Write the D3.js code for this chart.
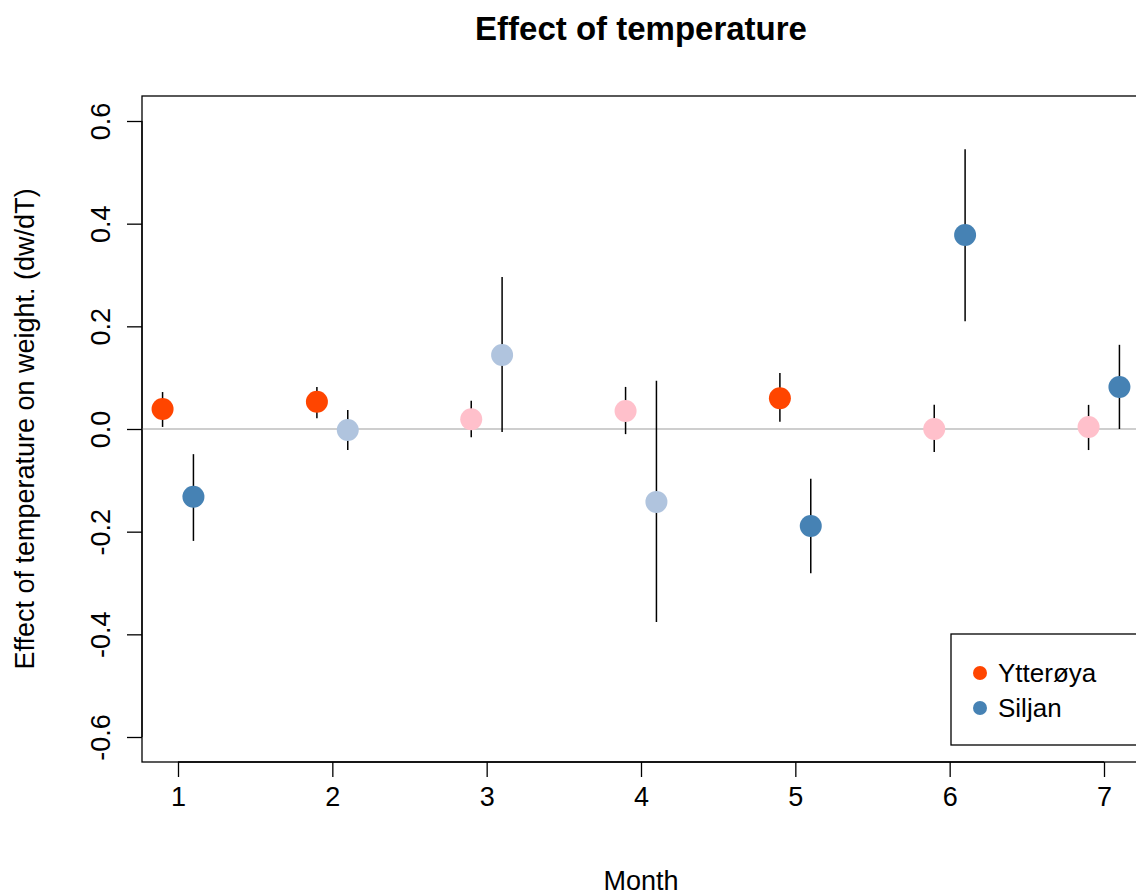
<!DOCTYPE html>
<html><head><meta charset="utf-8">
<script src="https://cdn.jsdelivr.net/npm/d3@7"></script>
<style>body{margin:0;background:#fff}text{font-family:"Liberation Sans",Arial,sans-serif}</style>
</head><body><div id="chart"></div>
<script>
var months = [1, 2, 3, 4, 5, 6, 7];
var ytterEst = [0.039, 0.053, 0.019, 0.035, 0.060, 0.000, 0.004];
var ytterLo  = [0.004, 0.021, -0.016, -0.010, 0.014, -0.045, -0.041];
var ytterHi  = [0.072, 0.082, 0.055, 0.082, 0.109, 0.047, 0.047];
var ytterSig = [true, true, false, false, true, false, false];
var siljEst = [-0.132, -0.002, 0.144, -0.142, -0.189, 0.378, 0.082];
var siljLo  = [-0.218, -0.041, -0.006, -0.376, -0.281, 0.210, 0.000];
var siljHi  = [-0.049, 0.037, 0.296, 0.094, -0.097, 0.545, 0.164];
var siljSig = [true, false, false, false, true, true, true];
var yTicks = [-0.6, -0.4, -0.2, 0.0, 0.2, 0.4, 0.6];

var W = 1136, H = 893;
var svg = d3.select("#chart").append("svg").attr("width", W).attr("height", H);

var x = d3.scaleLinear().domain([1, 7]).range([178, 1104]);
var y = d3.scaleLinear().domain([-0.6, 0.6]).range([737, 121]);

// plot box
svg.append("rect").attr("x", 142).attr("y", 96).attr("width", 998).attr("height", 666)
  .attr("fill", "none").attr("stroke", "#000").attr("stroke-width", 1.3);

// zero line
svg.append("line").attr("x1", 142).attr("x2", 1140).attr("y1", y(0)).attr("y2", y(0))
  .attr("stroke", "#bebebe").attr("stroke-width", 1.5);

// axes
var fmt = function(d){ return d3.format(".1f")(d).replace("−", "-"); };
var yAxis = svg.append("g").attr("transform", "translate(142,0)")
  .call(d3.axisLeft(y).tickValues(yTicks).tickSize(15).tickFormat(fmt));
yAxis.select(".domain").attr("d", "M0," + y(-0.6) + "V" + y(0.6)).attr("stroke-width", 1.3);
yAxis.selectAll(".tick line").attr("stroke-width", 1.3);
yAxis.selectAll(".tick text").attr("font-size", 27).attr("fill", "#000")
  .attr("x", 0).attr("dy", "0.35em").attr("text-anchor", "middle")
  .attr("transform", "translate(-41,0) rotate(-90)");

var xAxis = svg.append("g").attr("transform", "translate(0,762)")
  .call(d3.axisBottom(x).tickValues(months).tickSize(15).tickFormat(d3.format("d")));
xAxis.select(".domain").attr("d", "M" + x(1) + ",0H" + x(7)).attr("stroke-width", 1.3);
xAxis.selectAll(".tick line").attr("stroke-width", 1.3);
xAxis.selectAll(".tick text").attr("font-size", 27).attr("fill", "#000").attr("y", 25);

// titles
svg.append("text").attr("x", 641).attr("y", 40).attr("text-anchor", "middle")
  .attr("font-size", 33).attr("font-weight", "bold").text("Effect of temperature");
svg.append("text").attr("x", 641).attr("y", 890).attr("text-anchor", "middle")
  .attr("font-size", 27).text("Month");
svg.append("text").attr("transform", "translate(34,429) rotate(-90)").attr("text-anchor", "middle")
  .attr("font-size", 27).text("Effect of temperature on weight. (dw/dT)");

function drawSeries(est, lo, hi, sig, off, dark, light) {
  var g = svg.append("g");
  months.forEach(function(m, i) {
    g.append("line").attr("x1", x(m + off)).attr("x2", x(m + off))
      .attr("y1", y(lo[i])).attr("y2", y(hi[i])).attr("stroke", "#000").attr("stroke-width", 1.5);
    g.append("circle").attr("cx", x(m + off)).attr("cy", y(est[i])).attr("r", 11)
      .attr("fill", sig[i] ? dark : light);
  });
}
drawSeries(ytterEst, ytterLo, ytterHi, ytterSig, -0.1, "#FF4500", "#FFC0CB");
drawSeries(siljEst, siljLo, siljHi, siljSig, 0.1, "#4682B4", "#B0C4DE");

// legend
var leg = svg.append("g");
leg.append("rect").attr("x", 951).attr("y", 634).attr("width", 200).attr("height", 111)
  .attr("fill", "#fff").attr("stroke", "#000").attr("stroke-width", 1.3);
[["Ytterøya", "#FF4500", 673], ["Siljan", "#4682B4", 708]].forEach(function(d) {
  leg.append("circle").attr("cx", 980).attr("cy", d[2]).attr("r", 7).attr("fill", d[1]);
  leg.append("text").attr("x", 998).attr("y", d[2]).attr("dy", "0.35em").attr("font-size", 26).text(d[0]);
});
</script></body></html>
